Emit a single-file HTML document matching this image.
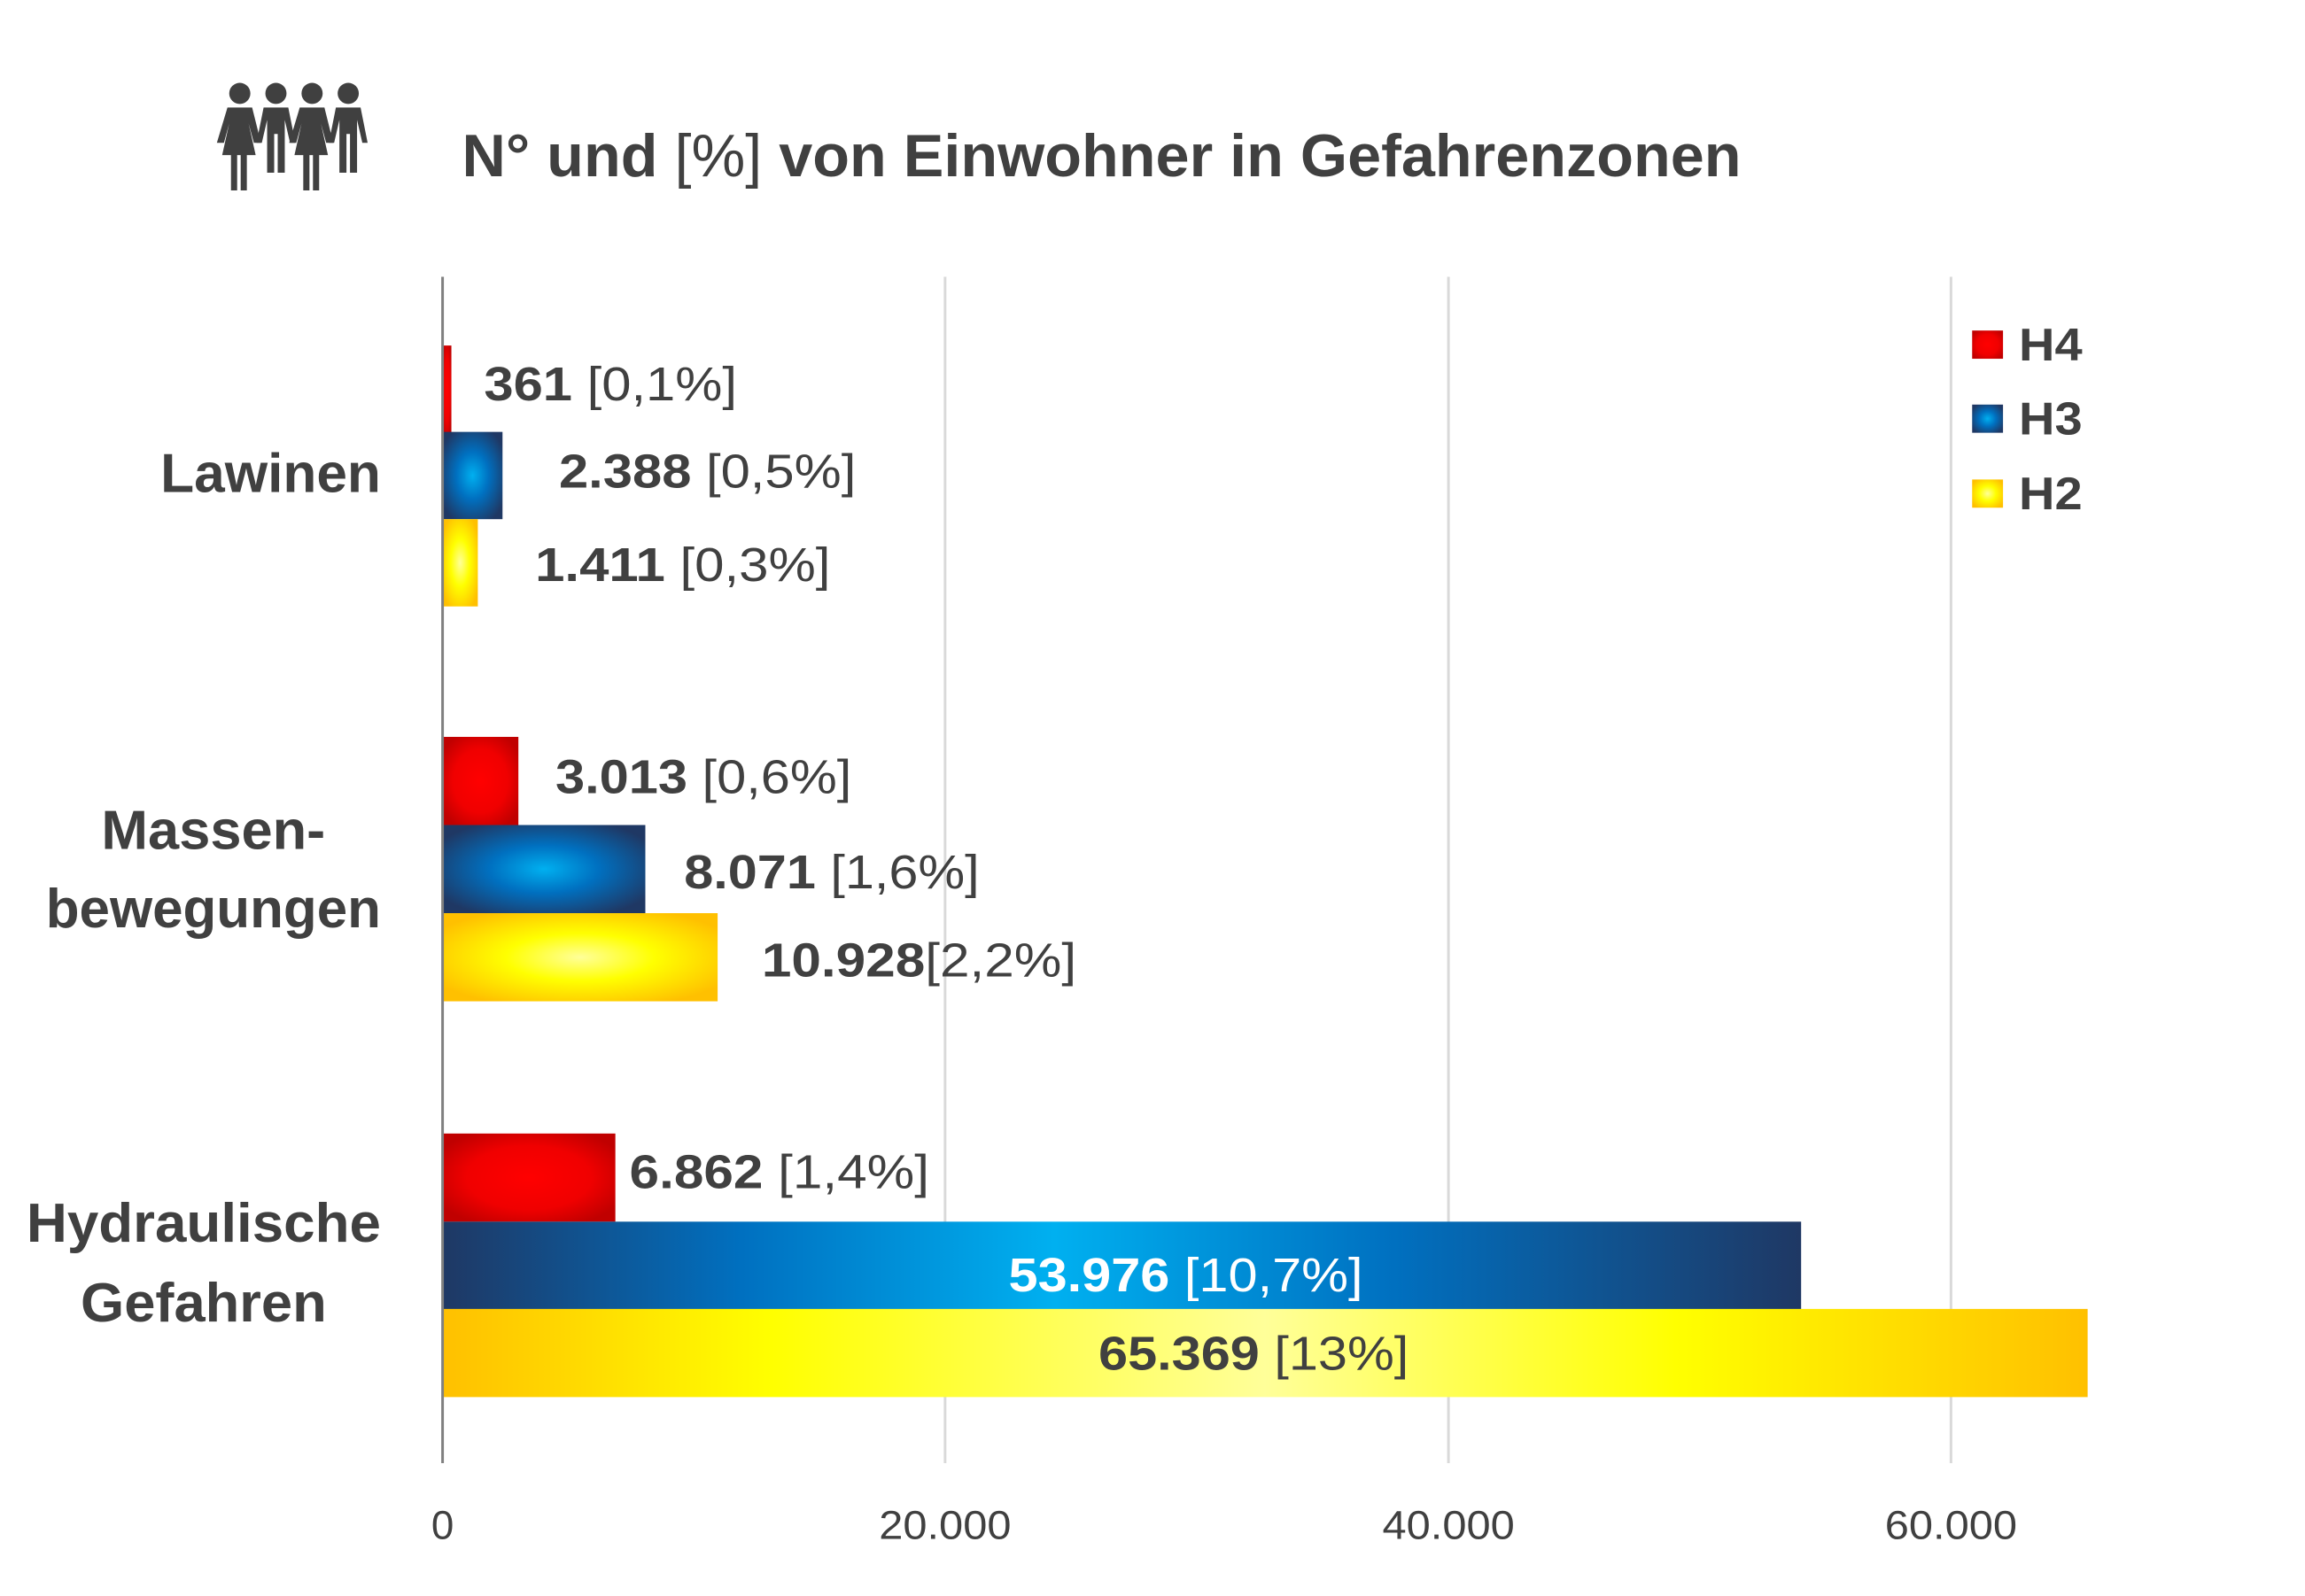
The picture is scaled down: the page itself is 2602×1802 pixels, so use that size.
<!DOCTYPE html>
<html><head><meta charset="utf-8"><style>
html,body{margin:0;padding:0;background:#fff;}
svg{display:block;}
text{font-family:"Liberation Sans Narrow","Liberation Sans",sans-serif;fill:#404040;}
.b{font-weight:bold;}
</style></head><body>
<svg width="2602" height="1802" viewBox="0 0 2602 1802" xmlns="http://www.w3.org/2000/svg">
<defs>
<radialGradient id="gr" cx="0.5" cy="0.5" r="0.6"><stop offset="0" stop-color="#ff0000"/><stop offset="0.6" stop-color="#f00000"/><stop offset="1" stop-color="#c00000"/></radialGradient>
<radialGradient id="gb" cx="0.5" cy="0.5" r="0.6"><stop offset="0" stop-color="#00b0f0"/><stop offset="0.45" stop-color="#0070c0"/><stop offset="1" stop-color="#1f3864"/></radialGradient>
<radialGradient id="gy" cx="0.5" cy="0.5" r="0.6"><stop offset="0" stop-color="#ffff99"/><stop offset="0.45" stop-color="#ffff00"/><stop offset="1" stop-color="#ffc000"/></radialGradient>
<linearGradient id="lb" x1="0" x2="1" y1="0" y2="0"><stop offset="0" stop-color="#1f3864"/><stop offset="0.22" stop-color="#0070c0"/><stop offset="0.45" stop-color="#00b0f0"/><stop offset="0.7" stop-color="#0070c0"/><stop offset="1" stop-color="#1f3864"/></linearGradient>
<linearGradient id="ly" x1="0" x2="1" y1="0" y2="0"><stop offset="0" stop-color="#ffc000"/><stop offset="0.2" stop-color="#ffff00"/><stop offset="0.5" stop-color="#ffff99"/><stop offset="0.75" stop-color="#ffff00"/><stop offset="1" stop-color="#ffc000"/></linearGradient>
</defs>
<rect width="2602" height="1802" fill="#fff"/>
<g transform="scale(0.9952)">
<!-- icon -->
<g fill="#404040">
<g transform="translate(250,92)">
 <circle cx="22" cy="14" r="12"/><path d="M8 30 h28 l10 40 h-8 l-6 -22 l8 36 h-10 v40 h-7 v-40 h-4 v40 h-7 v-40 h-10 l8 -36 l-6 22 h-8z"/>
</g>
<g transform="translate(291,92)">
 <circle cx="22" cy="14" r="12"/><path d="M8 30 h28 l8 40 h-6 l-6 -26 v60 h-8 v-44 h-4 v44 h-8 v-60 l-6 26 h-6z"/>
</g>
<g transform="translate(332,92)">
 <circle cx="22" cy="14" r="12"/><path d="M8 30 h28 l10 40 h-8 l-6 -22 l8 36 h-10 v40 h-7 v-40 h-4 v40 h-7 v-40 h-10 l8 -36 l-6 22 h-8z"/>
</g>
<g transform="translate(373,92)">
 <circle cx="22" cy="14" r="12"/><path d="M8 30 h28 l8 40 h-6 l-6 -26 v60 h-8 v-44 h-4 v44 h-8 v-60 l-6 26 h-6z"/>
</g>
</g>
<!-- title -->
<text x="524" y="200" font-size="68" textLength="1451" lengthAdjust="spacingAndGlyphs"><tspan class="b">N° und </tspan><tspan>[%]</tspan><tspan class="b"> von Einwohner in Gefahrenzonen</tspan></text>
<!-- grid -->
<g stroke="#d9d9d9" stroke-width="3">
<line x1="1072" y1="314" x2="1072" y2="1660"/><line x1="1643" y1="314" x2="1643" y2="1660"/><line x1="2213" y1="314" x2="2213" y2="1660"/>
</g>
<!-- bars -->
<rect x="502" y="392" width="10" height="99" fill="url(#gr)"/>
<rect x="502" y="490" width="68" height="99" fill="url(#gb)"/>
<rect x="502" y="589" width="40" height="99" fill="url(#gy)"/>
<rect x="502" y="836" width="86" height="100" fill="url(#gr)"/>
<rect x="502" y="936" width="230" height="100" fill="url(#gb)"/>
<rect x="502" y="1036" width="312" height="100" fill="url(#gy)"/>
<rect x="502" y="1286" width="196" height="100" fill="url(#gr)"/>
<rect x="502" y="1386" width="1541" height="100" fill="url(#lb)"/>
<rect x="502" y="1485" width="1866" height="100" fill="url(#ly)"/>
<line x1="502" y1="314" x2="502" y2="1660" stroke="#808080" stroke-width="3"/>
<!-- category labels -->
<g font-size="62" text-anchor="middle" font-weight="bold">
<text x="307" y="558" textLength="250" lengthAdjust="spacingAndGlyphs" font-weight="bold">Lawinen</text>
<text x="242" y="963" textLength="254" lengthAdjust="spacingAndGlyphs" font-weight="bold">Massen-</text>
<text x="242" y="1052" textLength="380" lengthAdjust="spacingAndGlyphs" font-weight="bold">bewegungen</text>
<text x="231" y="1409" textLength="402" lengthAdjust="spacingAndGlyphs" font-weight="bold">Hydraulische</text>
<text x="231" y="1499" textLength="279" lengthAdjust="spacingAndGlyphs" font-weight="bold">Gefahren</text>
</g>
<!-- data labels -->
<g font-size="54">
<text x="549" y="454" textLength="287" lengthAdjust="spacingAndGlyphs"><tspan font-weight="bold">361</tspan> [0,1%]</text>
<text x="634" y="553" textLength="337" lengthAdjust="spacingAndGlyphs"><tspan font-weight="bold">2.388</tspan> [0,5%]</text>
<text x="607" y="659" textLength="335" lengthAdjust="spacingAndGlyphs"><tspan font-weight="bold">1.411</tspan> [0,3%]</text>
<text x="630" y="900" textLength="336" lengthAdjust="spacingAndGlyphs"><tspan font-weight="bold">3.013</tspan> [0,6%]</text>
<text x="776" y="1008" textLength="335" lengthAdjust="spacingAndGlyphs"><tspan font-weight="bold">8.071</tspan> [1,6%]</text>
<text x="864" y="1108" textLength="357" lengthAdjust="spacingAndGlyphs"><tspan font-weight="bold">10.928</tspan>[2,2%]</text>
<text x="714" y="1348" textLength="340" lengthAdjust="spacingAndGlyphs"><tspan font-weight="bold">6.862</tspan> [1,4%]</text>
<text x="1144" y="1465" textLength="402" lengthAdjust="spacingAndGlyphs" style="fill:#fff"><tspan font-weight="bold" style="fill:#fff">53.976</tspan> [10,7%]</text>
<text x="1246" y="1554" textLength="352" lengthAdjust="spacingAndGlyphs"><tspan font-weight="bold">65.369</tspan> [13%]</text>
</g>
<!-- x ticks -->
<g font-size="46" text-anchor="middle">
<text x="502" y="1746">0</text>
<text x="1072" y="1746" textLength="150" lengthAdjust="spacingAndGlyphs">20.000</text>
<text x="1643" y="1746" textLength="150" lengthAdjust="spacingAndGlyphs">40.000</text>
<text x="2213" y="1746" textLength="150" lengthAdjust="spacingAndGlyphs">60.000</text>
</g>
<!-- legend -->
<rect x="2237" y="375" width="35" height="32" fill="url(#gr)"/>
<rect x="2237" y="459" width="35" height="32" fill="url(#gb)"/>
<rect x="2237" y="544" width="35" height="32" fill="url(#gy)"/>
<g font-size="52" font-weight="bold">
<text x="2290" y="409" textLength="72" lengthAdjust="spacingAndGlyphs" font-weight="bold">H4</text>
<text x="2290" y="493" textLength="72" lengthAdjust="spacingAndGlyphs" font-weight="bold">H3</text>
<text x="2290" y="578" textLength="72" lengthAdjust="spacingAndGlyphs" font-weight="bold">H2</text>
</g>
</g>
</svg>
</body></html>
